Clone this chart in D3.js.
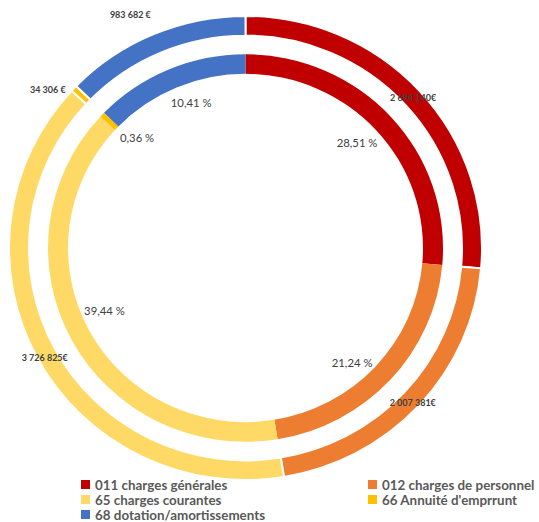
<!DOCTYPE html>
<html>
<head>
<meta charset="utf-8">
<script src="https://cdn.jsdelivr.net/npm/d3@7"></script>
<style>
  body { margin: 0; background: #fff; }
  svg { display: block; font-family: Lato, "Open Sans", sans-serif; }
</style>
</head>
<body>
<svg id="chart" width="539" height="522"></svg>
<script>
// categories and values
var categories = ["011 charges générales", "012 charges de personnel", "65 charges courantes", "66 Annuité d'emprrunt", "68 dotation/amortissements"];
var amountLabels = ["2 694 140€", "2 007 381€", "3 726 825€", "34 306 €", "983 682 €"];
var percentLabels = ["28,51 %", "21,24 %", "39,44 %", "0,36 %", "10,41 %"];
var sliceShares = [26.4, 21.0, 39.45, 0.45, 12.7];
var colors = ["#C00000", "#ED7D31", "#FFD966", "#FFC000", "#4472C4"];

var w = 539, h = 522;
var cx = 245.5, cy = 248, squash = 0.981;

var svg = d3.select("#chart");

var pie = d3.pie().value(function(d) { return d; }).sort(null);
var slices = pie(sliceShares);

var outerArc = d3.arc().innerRadius(216.5).outerRadius(236.5);
var innerArc = d3.arc().innerRadius(177.5).outerRadius(197.5);

var g = svg.append("g")
  .attr("transform", "translate(" + cx + "," + cy + ") scale(1," + squash + ")");

// inner ring (no separators)
g.append("g").selectAll("path")
  .data(slices)
  .join("path")
  .attr("d", innerArc)
  .attr("fill", function(d, i) { return colors[i]; });

// outer ring, white borders between segments
g.append("g").selectAll("path")
  .data(slices)
  .join("path")
  .attr("d", outerArc)
  .attr("fill", function(d, i) { return colors[i]; })
  .attr("stroke", "#fff")
  .attr("stroke-width", 2);

// label placement helpers
function pos(angle, r) {
  return [cx + r * Math.sin(angle), cy - r * Math.cos(angle) * squash];
}
function mid(d) { return (d.startAngle + d.endAngle) / 2; }
var deg = Math.PI / 180;

// outer labels: the small slices were pulled out of the ring
var outerR = [227, 230, 230, 255, 264];
var outerShift = [0.1, 0.5, -0.85, -4.3, -3.0];

svg.append("g").selectAll("text")
  .data(slices)
  .join("text")
  .attr("x", function(d, i) { return pos(mid(d) + outerShift[i] * deg, outerR[i])[0]; })
  .attr("y", function(d, i) { return pos(mid(d) + outerShift[i] * deg, outerR[i])[1]; })
  .attr("text-anchor", "middle")
  .attr("dy", "0.35em")
  .attr("font-size", 9)
  .attr("font-weight", "bold")
  .attr("fill", "#404040")
  .text(function(d, i) { return amountLabels[i]; });

// inner labels sit in the hole
var innerR = [154.5, 158.4, 155, 156, 157.7];
var innerShift = [-1.3, 4.86, 3.85, 2.5, 2.7];

svg.append("g").selectAll("text")
  .data(slices)
  .join("text")
  .attr("x", function(d, i) { return pos(mid(d) + innerShift[i] * deg, innerR[i])[0]; })
  .attr("y", function(d, i) { return pos(mid(d) + innerShift[i] * deg, innerR[i])[1]; })
  .attr("text-anchor", "middle")
  .attr("dy", "0.35em")
  .attr("font-size", 11.3)
  .attr("fill", "#404040")
  .text(function(d, i) { return percentLabels[i]; });

// legend
var legendX = [81, 368];
var legendY = [485, 500, 515];
var legend = svg.append("g").selectAll("g")
  .data(categories)
  .join("g")
  .attr("transform", function(d, i) {
    return "translate(" + legendX[i % 2] + "," + legendY[Math.floor(i / 2)] + ")";
  });

legend.append("rect")
  .attr("x", 0)
  .attr("y", -5)
  .attr("width", 9)
  .attr("height", 9)
  .attr("fill", function(d, i) { return colors[i]; });

legend.append("text")
  .attr("x", 14)
  .attr("dy", "0.35em")
  .attr("font-size", 13.4)
  .attr("font-weight", "bold")
  .attr("fill", "#595959")
  .text(function(d) { return d; });
</script>
</body>
</html>
